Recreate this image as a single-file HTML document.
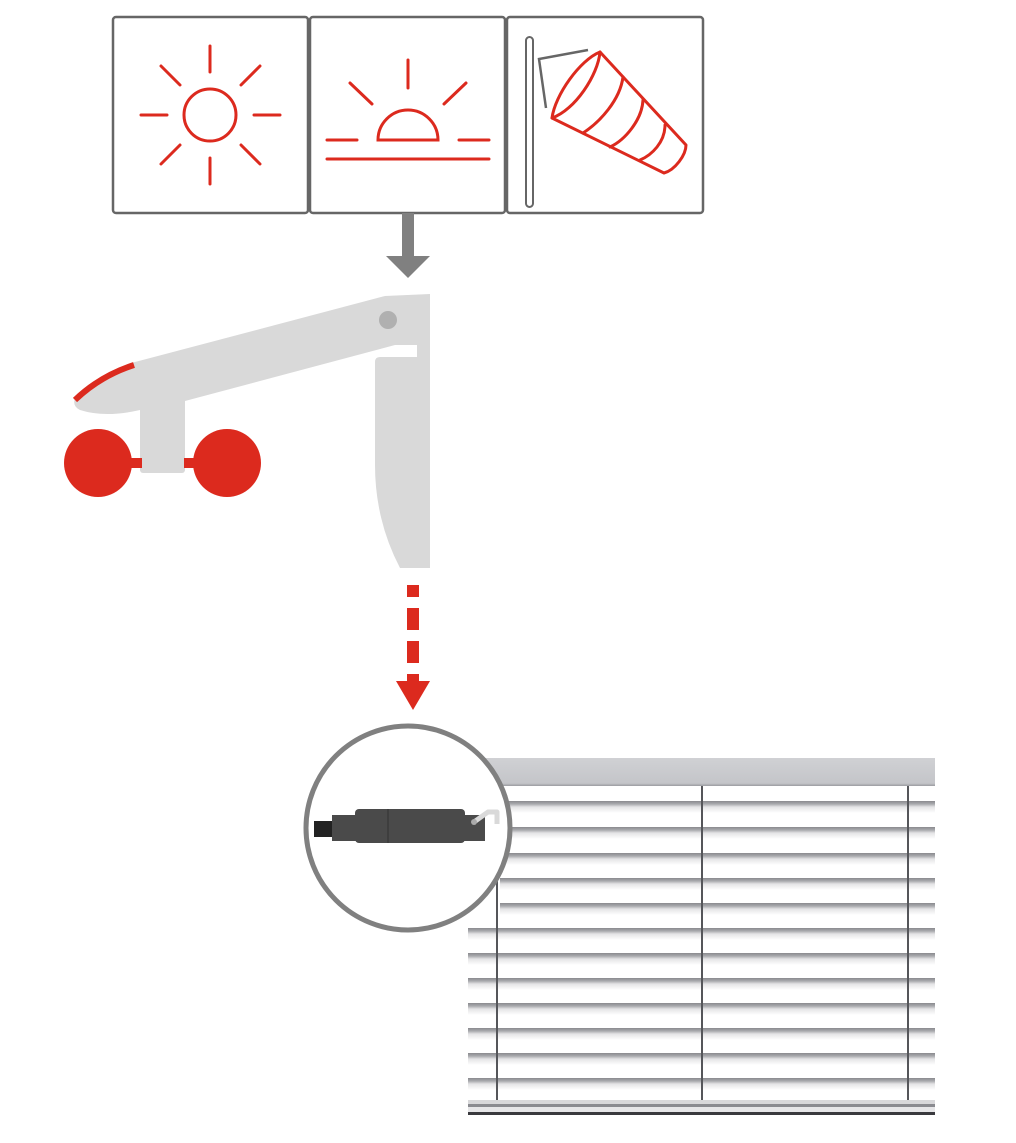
<!DOCTYPE html>
<html><head><meta charset="utf-8"><style>html,body{margin:0;padding:0;background:#fff}svg{display:block}</style></head>
<body>
<svg width="1016" height="1143" viewBox="0 0 1016 1143" xmlns="http://www.w3.org/2000/svg">
<defs>
<linearGradient id="slat" x1="0" y1="0" x2="0" y2="1">
<stop offset="0" stop-color="#8a8a8e"/><stop offset="0.25" stop-color="#a8a9ad"/><stop offset="0.5" stop-color="#e4e4e6"/><stop offset="1" stop-color="#ffffff"/>
</linearGradient>
<linearGradient id="head" x1="0" y1="0" x2="0" y2="1">
<stop offset="0" stop-color="#d0d1d4"/><stop offset="0.9" stop-color="#c4c5c9"/><stop offset="1" stop-color="#9a9ba0"/>
</linearGradient>
</defs>
<!-- boxes -->
<g fill="none" stroke="#666" stroke-width="2.5">
<rect x="113" y="17" width="195" height="196" rx="3"/>
<rect x="310" y="17" width="195" height="196" rx="3"/>
<rect x="507" y="17" width="196" height="196" rx="3"/>
</g>
<!-- sun -->
<g stroke="#dc2a1e" stroke-width="3" fill="none" stroke-linecap="round">
<circle cx="210" cy="115" r="26"/>
<line x1="210" y1="46" x2="210" y2="72"/><line x1="210" y1="158" x2="210" y2="184"/>
<line x1="141" y1="115" x2="167" y2="115"/><line x1="254" y1="115" x2="280" y2="115"/>
<line x1="161" y1="66" x2="180" y2="85"/><line x1="241" y1="145" x2="260" y2="164"/>
<line x1="260" y1="66" x2="241" y2="85"/><line x1="180" y1="145" x2="161" y2="164"/>
</g>
<!-- sunset -->
<g stroke="#dc2a1e" stroke-width="3" fill="none" stroke-linecap="round">
<path d="M378 140 A30 30 0 0 1 438 140 Z"/>
<line x1="408" y1="60" x2="408" y2="88"/>
<line x1="350" y1="83" x2="372" y2="104"/><line x1="466" y1="83" x2="444" y2="104"/>
<line x1="327" y1="140" x2="357" y2="140"/><line x1="459" y1="140" x2="489" y2="140"/>
<line x1="327" y1="159" x2="489" y2="159"/>
</g>
<!-- windsock -->
<rect x="526" y="37" width="7" height="170" rx="3.5" fill="none" stroke="#666" stroke-width="2"/>
<polyline points="588,50 539,59 546,108" fill="none" stroke="#666" stroke-width="2.5"/>
<g stroke="#dc2a1e" stroke-width="3" fill="none" stroke-linecap="round" stroke-linejoin="round">
<path d="M600 52 C580 60 555 95 552 118 C575 110 598 75 600 52 Z"/>
<path d="M600 52 L686 145 C686 155 675 170 664 173 L552 118"/>
<path d="M623 77 C620 100 600 122 583 133"/>
<path d="M643 100 C642 120 625 140 610 147"/>
<path d="M665 125 C665 142 652 155 640 160"/>
</g>
<!-- gray arrow -->
<rect x="402" y="213" width="12" height="44" fill="#808080"/>
<polygon points="386,256 430,256 408,278" fill="#808080"/>
<!-- arm -->
<g fill="#d9d9d9">
<rect x="140" y="395" width="45" height="78" rx="3"/>
<path d="M135 362 L385 296 L430 294 L430 568 L400 568 Q375 520 375 465 L375 362 Q375 357 380 357 L417 357 L417 345 L395 345 L185 401 L140 410 Q105 418 80 410 Q72 406 75 398 Q100 372 135 362 Z"/>
</g>
<path d="M75 400 Q100 376 134 365" stroke="#dc2a1e" stroke-width="6" fill="none"/>
<circle cx="388" cy="320" r="9" fill="#b0b0b0"/>
<rect x="130" y="458" width="12" height="10" fill="#dc2a1e"/>
<rect x="184" y="458" width="12" height="10" fill="#dc2a1e"/>
<circle cx="98" cy="463" r="34" fill="#dc2a1e"/>
<circle cx="227" cy="463" r="34" fill="#dc2a1e"/>
<!-- red dashed arrow -->
<g fill="#dc2a1e">
<rect x="407" y="585" width="12" height="12"/>
<rect x="407" y="608" width="12" height="22"/>
<rect x="407" y="641" width="12" height="22"/>
<rect x="407" y="674" width="12" height="8"/>
<polygon points="396,681 430,681 413,710"/>
</g>
<!-- blinds -->
<rect x="478" y="758" width="457" height="28" fill="url(#head)"/>
<g fill="url(#slat)">
<rect x="500" y="801" width="435" height="12"/>
<rect x="500" y="827" width="435" height="12"/>
<rect x="500" y="853" width="435" height="12"/>
<rect x="500" y="878" width="435" height="12"/>
<rect x="500" y="903" width="435" height="12"/>
<rect x="468" y="928" width="467" height="12"/>
<rect x="468" y="953" width="467" height="12"/>
<rect x="468" y="978" width="467" height="12"/>
<rect x="468" y="1003" width="467" height="12"/>
<rect x="468" y="1028" width="467" height="12"/>
<rect x="468" y="1053" width="467" height="12"/>
<rect x="468" y="1078" width="467" height="12"/>
</g>
<g stroke="#55565a" stroke-width="2">
<line x1="497" y1="786" x2="497" y2="1100"/>
<line x1="702" y1="786" x2="702" y2="1100"/>
<line x1="908" y1="786" x2="908" y2="1100"/>
</g>
<rect x="468" y="1100" width="467" height="4" fill="#d8d8da"/>
<rect x="468" y="1104" width="467" height="3" fill="#8a8b90"/>
<rect x="468" y="1107" width="467" height="5" fill="#e6e6e8"/>
<rect x="468" y="1112" width="467" height="3" fill="#3a3a3e"/>
<!-- circle -->
<circle cx="408" cy="828" r="102" fill="#fff" stroke="#808080" stroke-width="5"/>
<rect x="314" y="821" width="20" height="16" fill="#222"/>
<rect x="332" y="815" width="26" height="26" fill="#4a4a4a"/>
<rect x="355" y="809" width="110" height="34" rx="4" fill="#4a4a4a"/>
<line x1="388" y1="809" x2="388" y2="843" stroke="#333" stroke-width="1"/>
<rect x="463" y="815" width="22" height="26" fill="#4a4a4a"/>
<path d="M474 822 L488 812 L497 812 L497 824" stroke="#d9d9d9" stroke-width="5" fill="none" stroke-linejoin="round"/>
<circle cx="474" cy="822" r="3" fill="#aaa"/>
</svg>
</body></html>
